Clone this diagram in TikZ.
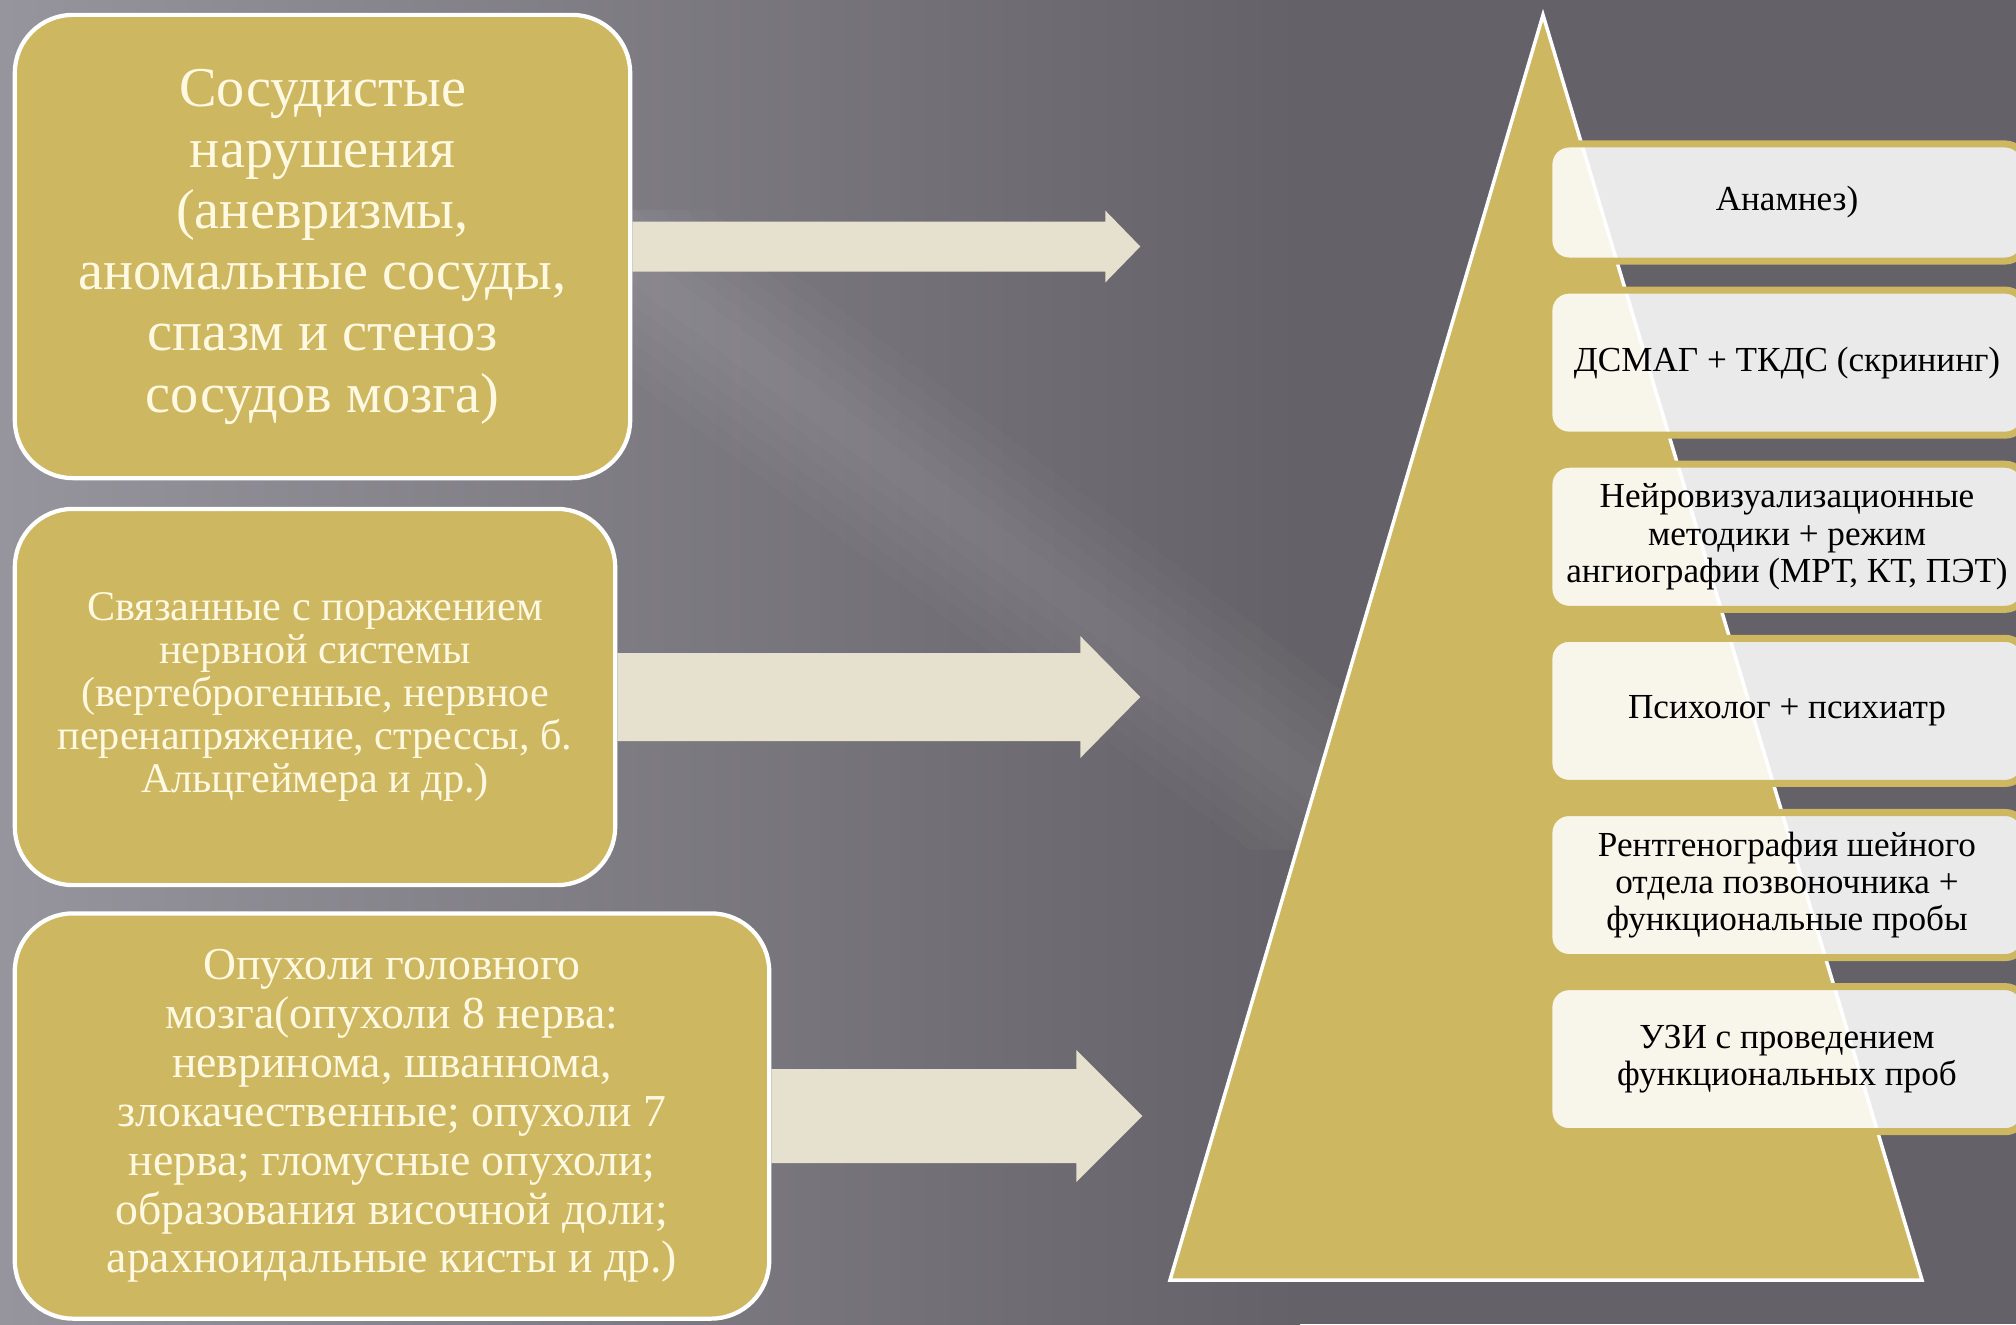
\documentclass[tikz,border=0pt]{standalone}
\usepackage{fontspec}
\setmainfont{Liberation Serif}
\usepackage{tikz}
\usetikzlibrary{positioning,calc}

\definecolor{gold}{RGB}{205,183,97}
\definecolor{cream}{RGB}{255,249,226}
\definecolor{arrowcol}{RGB}{230,224,206}
\definecolor{bgdark}{RGB}{100,97,104}
\definecolor{bglight}{RGB}{150,148,156}

\tikzset{
  leftbox/.style={draw=white, line width=1.2pt, fill=gold, rounded corners=0.58cm,
    text=cream, align=center, inner sep=0pt},
  testbox/.style={draw=gold, line width=2pt, fill=white, fill opacity=0.87, text opacity=1,
    rounded corners=0.2cm, minimum width=4.76cm, minimum height=1.45cm, align=center,
    inner sep=0pt, font=\fontsize{10}{10.6}\selectfont},
  blockarrow/.style={fill=arrowcol},
}

\begin{document}
\begin{tikzpicture}[x=0.01cm,y=-0.01cm]
  \clip (0,0) rectangle (2016,1324);
  % background
  \fill[bgdark] (0,0) rectangle (2016,1324);
  \shade[left color=bglight, right color=bgdark] (0,0) rectangle (1300,1324);
  \foreach \w in {25,50,...,150}
    \fill[white,opacity=0.018] ({560-\w},210) -- ({560+\w},210) -- ({1400+\w},850) -- ({1400-\w},850) -- cycle;

  % pyramid
  \filldraw[fill=gold, draw=white, line width=1pt] (1543,15) -- (1922,1280) -- (1170,1280) -- cycle;

  % causes
  \node[leftbox, minimum width=6.15cm, minimum height=4.63cm, font=\fontsize{16}{17.4}\selectfont]
    (sosud) at (322.5,246.5) {Сосудистые\\ нарушения\\ (аневризмы,\\ аномальные сосуды,\\ спазм и стеноз\\ сосудов мозга)};
  \node[leftbox, minimum width=6.0cm, minimum height=3.76cm, font=\fontsize{12}{12.2}\selectfont]
    (nerv) at (315,697) {Связанные с поражением\\ нервной системы\\ (вертеброгенные, нервное\\ перенапряжение, стрессы, б.\\ Альцгеймера и др.)};
  \node[leftbox, minimum width=7.54cm, minimum height=4.05cm, font=\fontsize{13}{13.9}\selectfont]
    (opux) at (392,1116) {Опухоли  головного\\ мозга(опухоли  8 нерва:\\ невринома,  шваннома,\\ злокачественные;  опухоли  7\\ нерва;  гломусные  опухоли;\\ образования  височной  доли;\\ арахноидальные  кисты  и  др.)};

  % arrows to the pyramid
  \coordinate (sosud-tip) at ($(sosud.east)+(508,0)$);
  \coordinate (nerv-tip) at ($(nerv.east)+(523,0)$);
  \coordinate (opux-tip) at ($(opux.east)+(371,0)$);
  \foreach \b/\s/\h/\l in {sosud/25/36/35, nerv/44/61/60, opux/47/66/66}
    \fill[blockarrow] ($(\b.east)+(0,-\s)$) -- ($(\b-tip)+(-\l,-\s)$) -- ($(\b-tip)+(-\l,-\h)$)
      -- (\b-tip) -- ($(\b-tip)+(-\l,\h)$) -- ($(\b-tip)+(-\l,\s)$) -- ($(\b.east)+(0,\s)$) -- cycle;

  % examinations
  \node[testbox, minimum height=1.17cm] (anamnez) at (1787,202.5) {Анамнез)};
  \node[testbox, below=0.22cm of anamnez] (dsmag) {ДСМАГ + ТКДС (скрининг)};
  \node[testbox, below=0.22cm of dsmag] (neiro) {Нейровизуализационные\\ методики + режим\\ ангиографии (МРТ, КТ, ПЭТ)};
  \node[testbox, below=0.22cm of neiro] (psih) {Психолог + психиатр};
  \node[testbox, below=0.22cm of psih] (rentg) {Рентгенография шейного\\ отдела позвоночника +\\ функциональные пробы};
  \node[testbox, below=0.22cm of rentg] (uzi) {УЗИ с проведением\\ функциональных проб};
\end{tikzpicture}
\end{document}
